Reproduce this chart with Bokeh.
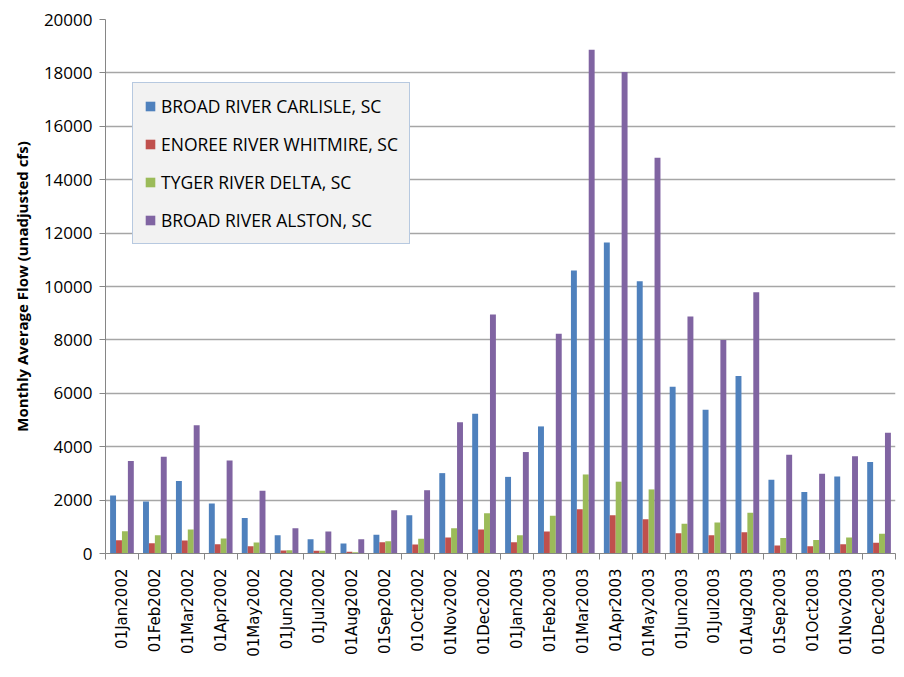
import math
import numpy as np
from bokeh.plotting import figure
from bokeh.models import ColumnDataSource, Range1d, FixedTicker, Legend, LegendItem
from bokeh.transform import dodge
from bokeh.embed import file_html
from bokeh.resources import INLINE

months = ["01Jan2002", "01Feb2002", "01Mar2002", "01Apr2002", "01May2002", "01Jun2002",
          "01Jul2002", "01Aug2002", "01Sep2002", "01Oct2002", "01Nov2002", "01Dec2002",
          "01Jan2003", "01Feb2003", "01Mar2003", "01Apr2003", "01May2003", "01Jun2003",
          "01Jul2003", "01Aug2003", "01Sep2003", "01Oct2003", "01Nov2003", "01Dec2003"]

carlisle = [2170, 1950, 2720, 1870, 1330, 680, 530, 370, 700, 1430, 3010, 5230,
            2870, 4760, 10600, 11650, 10200, 6250, 5380, 6650, 2760, 2300, 2880, 3430]
enoree = [500, 380, 490, 350, 270, 110, 100, 70, 420, 340, 600, 900,
          420, 820, 1660, 1430, 1280, 760, 680, 800, 300, 270, 350, 400]
tyger = [830, 680, 900, 560, 410, 120, 100, 50, 460, 550, 950, 1510,
         680, 1410, 2960, 2690, 2400, 1110, 1160, 1530, 580, 510, 600, 740]
alston = [3460, 3620, 4800, 3480, 2350, 950, 820, 530, 1620, 2370, 4920, 8950,
          3800, 8230, 18870, 18030, 14820, 8880, 8000, 9780, 3700, 2990, 3640, 4520]

series_names = ["BROAD RIVER CARLISLE, SC", "ENOREE RIVER WHITMIRE, SC",
                "TYGER RIVER DELTA, SC", "BROAD RIVER ALSTON, SC"]
colors = ["#4F81BD", "#C0504D", "#9BBB59", "#8064A2"]
y_ticks = list(range(0, 20001, 2000))

idx = list(range(len(months)))
source = ColumnDataSource(dict(x=idx, carlisle=carlisle, enoree=enoree, tyger=tyger, alston=alston))

p = figure(width=896, height=668, output_backend="svg", toolbar_location=None,
           x_range=Range1d(-0.5, len(months) - 0.5), y_range=Range1d(0, 20000),
           min_border_left=105, min_border_top=19, min_border_bottom=115, min_border_right=1)
p.outline_line_color = None
p.background_fill_color = "white"
p.border_fill_color = "white"

cols = ["carlisle", "enoree", "tyger", "alston"]
offsets = [-0.27, -0.09, 0.09, 0.27]
items = []
for c, off, col, name in zip(cols, offsets, colors, series_names):
    r = p.vbar(x=dodge("x", off), top=c, width=0.18, source=source,
               fill_color=col, line_color=None)
    items.append(LegendItem(label=name, renderers=[r]))

# axes
p.xaxis.ticker = FixedTicker(ticks=idx, minor_ticks=[i - 0.5 for i in range(len(months) + 1)])
p.xaxis.major_label_overrides = {i: m for i, m in enumerate(months)}
p.xaxis.major_label_orientation = math.pi / 2
p.xaxis.major_tick_line_color = None
p.xaxis.major_tick_out = 6
p.xaxis.major_tick_in = 0
p.xaxis.minor_tick_out = 6
p.xaxis.minor_tick_in = 0
p.xaxis.minor_tick_line_color = "#868686"
p.xaxis.minor_tick_line_width = 1
p.xaxis.axis_line_color = "#868686"
p.xaxis.major_label_text_font = "DejaVu Sans"
p.xaxis.major_label_text_font_size = "15px"
p.xaxis.major_label_text_color = "black"
p.xaxis.major_label_standoff = 9

p.yaxis.ticker = FixedTicker(ticks=y_ticks)
p.yaxis.major_tick_out = 6
p.yaxis.major_tick_in = 0
p.yaxis.minor_tick_line_color = None
p.yaxis.major_tick_line_color = "#868686"
p.yaxis.axis_line_color = "#868686"
p.yaxis.major_label_text_font = "Open Sans"
p.yaxis.major_label_text_font_size = "17px"
p.yaxis.major_label_text_color = "black"
p.yaxis.major_label_standoff = 7
p.yaxis.axis_label = "Monthly Average Flow (unadjusted cfs)"
p.yaxis.axis_label_text_font = "Open Sans"
p.yaxis.axis_label_text_font_size = "15px"
p.yaxis.axis_label_text_font_style = "bold"
p.yaxis.axis_label_text_color = "black"
p.yaxis.axis_label_standoff = 9

p.xgrid.grid_line_color = None
p.ygrid.grid_line_color = "#a6a6a6"
p.ygrid.grid_line_width = 1.5

legend = Legend(items=items, location=(27, 309))
legend.background_fill_color = "#f2f2f2"
legend.background_fill_alpha = 1.0
legend.border_line_color = "#7ba0cd"
legend.border_line_width = 1.5
legend.padding = 11
legend.spacing = 14
legend.label_height = 24
legend.glyph_height = 12
legend.glyph_width = 12
legend.label_standoff = 5
legend.label_text_font = "Open Sans"
legend.label_text_font_size = "17.5px"
legend.label_text_color = "black"
legend.margin = 0
p.add_layout(legend, "center")

open("out.html", "w").write(file_html(p, INLINE))
